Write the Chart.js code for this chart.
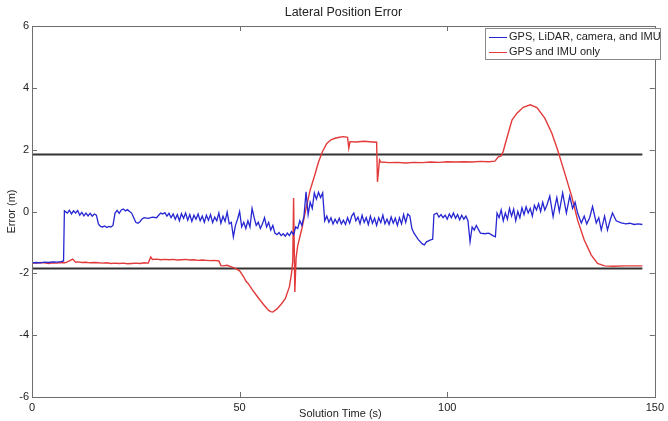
<!DOCTYPE html>
<html lang="en">
<head>
  <meta charset="UTF-8" />
  <title>Lateral Position Error</title>
  <script src="https://cdn.jsdelivr.net/npm/chart.js"></script>
  <style>
    body {
      margin: 0;
      padding: 0;
      background: #ffffff;
    }
    canvas {
      display: block;
    }
  </style>
</head>
<body>
  <canvas id="errChart" width="668" height="421"></canvas>

  <script>
    const chartTitle = 'Lateral Position Error';
    const xTitle = 'Solution Time (s)';
    const yTitle = 'Error (m)';
    const seriesNames = ['GPS, LiDAR, camera, and IMU', 'GPS and IMU only'];
    const xTicks = [0, 50, 100, 150];
    const yTicks = [-6, -4, -2, 0, 2, 4, 6];

    // fused solution (blue)
    const blueTime = [
      0, 1, 2, 3, 4, 5, 6, 7, 7.6, 7.8, 8.5, 9, 9.5, 10, 10.5, 11, 11.5, 12, 12.5, 13, 13.5, 14, 14.5, 15, 15.5,
      16, 16.5, 17, 17.5, 18, 18.5, 19, 19.5, 20, 20.5, 21, 21.5, 22, 22.5, 23, 23.5, 24, 24.5, 25, 25.5, 26, 26.5,
      27, 28, 29, 30, 30.5, 31, 31.5, 32, 32.5, 33, 33.5, 34, 34.5, 35, 35.5, 36, 36.5, 37, 37.5, 38, 38.5, 39, 39.5,
      40, 40.5, 41, 41.5, 42, 42.5, 43, 43.5, 44, 44.5, 45, 45.5, 46, 46.5, 47, 47.5, 48, 48.5, 49, 49.5, 50, 50.5,
      51, 51.5, 52, 52.5, 53, 53.5, 54, 54.5, 55, 55.5, 56, 56.5, 57, 57.5, 58, 58.5, 59, 59.5, 60, 60.5, 61, 61.5,
      62, 62.5, 63, 63.5, 64, 64.5, 65, 65.5, 66, 66.5, 67, 67.5, 68, 68.5, 69, 69.5, 70, 70.5, 71, 71.5, 72, 72.5,
      73, 73.5, 74, 74.5, 75, 75.5, 76, 76.5, 77, 77.5, 78, 78.5, 79, 79.5, 80, 80.5, 81, 81.5, 82, 82.5, 83, 83.5,
      84, 84.5, 85, 85.5, 86, 86.5, 87, 87.5, 88, 88.5, 89, 89.5, 90, 90.5, 91, 91.5, 92, 93, 94, 94.5, 95, 95.5,
      96, 96.5, 96.8, 97.5, 98, 98.5, 99, 99.5, 100, 100.5, 101, 101.5, 102, 102.5, 103, 103.5, 104, 104.5, 105,
      105.5, 106, 106.5, 107, 108, 109, 110, 111, 111.6, 112, 112.5, 113, 113.5, 114, 114.5, 115, 115.5, 116, 116.5,
      117, 117.5, 118, 118.5, 119, 119.5, 120, 120.5, 121, 121.5, 122, 122.5, 123, 123.5, 124, 124.7, 125.5, 126,
      126.4, 127, 127.8, 128.7, 129.5, 130.2, 130.8, 131.4, 132.3, 133, 133.6, 134.3, 135, 135.9, 136.5, 137.1,
      137.9, 138.6, 139.2, 139.8, 140.7, 141.9, 143, 144, 145, 146, 147
    ];
    const blueError = [
      -1.66, -1.65, -1.66, -1.64, -1.65, -1.63, -1.64, -1.62, -1.6, 0.02, -0.05, 0.04, -0.08, 0.02, -0.05, 0.03, -0.12, -0.03, -0.14, -0.05, -0.14, -0.06, -0.15, -0.08, -0.12,
      -0.4, -0.48, -0.5, -0.47, -0.52, -0.48, -0.5, -0.45, -0.05, 0.04, -0.06, 0.05, 0.08, 0.02, 0.06, 0.0, -0.05, -0.2, -0.35, -0.38, -0.33, -0.24,
      -0.2, -0.22, -0.18, -0.2, -0.12, -0.05, -0.08, -0.04, -0.15, -0.06, -0.2, -0.08, -0.25, -0.1, -0.3, -0.07, -0.22, -0.05, -0.28, -0.1, -0.32, -0.12, -0.25,
      -0.08, -0.3, -0.15, -0.35, -0.12, -0.28, -0.1, -0.36, -0.18, -0.3, -0.05, -0.38, -0.15, -0.32, -0.02, -0.4, -0.35, -0.82, -0.45, -0.25, 0.0, -0.5,
      -0.35, -0.55, -0.3, -0.5, 0.1, -0.2, -0.45, -0.35, -0.55, -0.4, -0.2, -0.5, -0.35, -0.6, -0.45, -0.7, -0.75, -0.68, -0.78, -0.72, -0.8, -0.7,
      -0.78, -0.65, -0.75, -0.5, -0.55, -0.3, -0.45, -0.15, 0.64, -0.1, 0.3, 0.1, 0.6, 0.4, 0.62, 0.45, 0.6, -0.3, -0.15, -0.35, -0.2, -0.4,
      -0.25, -0.38, -0.22, -0.4, -0.28, -0.42, -0.2, -0.38, -0.15, -0.05, -0.3, -0.18, -0.4, -0.12, -0.35, -0.2, -0.42, -0.15, -0.38, -0.22, -0.45, -0.2,
      -0.36, -0.12, -0.4, -0.25, -0.42, -0.18, -0.38, -0.22, -0.45, -0.2, -0.4, -0.1, -0.35, -0.08, -0.15, -0.55, -0.7, -0.9, -1.05, -1.08, -0.98, -0.95,
      -0.92, -0.9, -0.1, -0.05, -0.18, -0.1, -0.2, -0.12, -0.25, -0.08, -0.2, -0.05, -0.22, -0.1, -0.27, -0.12, -0.25, -0.15, -0.3,
      -0.98, -0.5, -0.6, -0.45, -0.7, -0.72, -0.7, -0.78, -0.82, -0.05, -0.2, 0.05, -0.3, -0.05, -0.25, 0.1, -0.15, 0.08, -0.3,
      0.0, -0.2, 0.12, -0.1, 0.15, -0.05, 0.1, -0.15, 0.2, 0.05, 0.25, 0.0, 0.3, 0.05, 0.2, 0.5, -0.17, 0.2,
      0.45, 0.0, 0.6, -0.05, 0.5, 0.1, 0.3, -0.05, -0.37, -0.15, -0.4, -0.2, 0.16, -0.37, -0.2, -0.6,
      -0.15, -0.6, -0.3, -0.05, -0.3, -0.37, -0.4, -0.38, -0.42, -0.4, -0.42
    ];

    // GPS + IMU only (red)
    const redTime = [
      0, 1, 2, 3, 4, 5, 6, 7, 8, 9, 9.8, 10.5, 11, 12, 13, 14, 15, 16, 17, 18, 19, 20, 21, 22, 23, 24, 25, 26, 27, 28,
      28.6, 29, 30, 31, 32, 33, 34, 35, 36, 37, 38, 39, 40, 41, 42, 43, 44, 45, 45.5, 46, 47, 48, 49, 50, 50.5, 51,
      51.5, 52, 53, 54, 55, 56, 57, 57.5, 58, 59, 60, 61, 62, 62.5, 62.8, 63, 63.3, 63.6, 64, 65, 66, 67, 68, 69, 70,
      71, 72, 73, 74, 75, 76, 76.3, 76.6, 78, 80, 82, 83, 83.2, 83.7, 84, 86, 88, 90, 92, 94, 96, 98, 100, 102, 104,
      106, 108, 110, 111.5, 112.3, 113, 113.5, 114, 114.7, 115.6, 116.8, 118.3, 120, 121.6, 123.5, 125.2, 126.6,
      128.3, 130, 131.4, 133, 134.7, 136.2, 137.9, 140, 143, 147
    ];
    const redError = [
      -1.66, -1.67, -1.65, -1.66, -1.68, -1.66, -1.67, -1.65, -1.66, -1.6, -1.54, -1.64, -1.63, -1.65, -1.64, -1.66, -1.65, -1.66, -1.67, -1.66, -1.68, -1.67, -1.68, -1.67, -1.69, -1.68, -1.67, -1.68, -1.66, -1.67,
      -1.47, -1.55, -1.54, -1.56, -1.55, -1.56, -1.55, -1.57, -1.56, -1.55, -1.57, -1.56, -1.58, -1.57, -1.58, -1.59, -1.58, -1.6, -1.75, -1.76, -1.74, -1.79, -1.84, -1.92, -2.02, -2.12,
      -2.25, -2.32, -2.52, -2.7, -2.88, -3.05, -3.2, -3.24, -3.25, -3.15, -3.0, -2.82, -2.43, -2.0, -1.6, 0.44, -2.6, -1.5, -1.1, -0.55, 0.1, 0.7, 1.13, 1.6, 1.95,
      2.2, 2.32, 2.37, 2.4, 2.42, 2.4, 2.05, 2.26, 2.25, 2.27, 2.25, 2.24, 0.96, 1.67, 1.6, 1.58, 1.59, 1.57, 1.59, 1.58, 1.6, 1.59, 1.61, 1.6, 1.61,
      1.6, 1.62, 1.61, 1.63, 1.77, 1.8, 1.95, 2.2, 2.53, 2.96, 3.18, 3.37, 3.45, 3.36, 3.02, 2.53, 1.99,
      1.24, 0.48, -0.28, -0.92, -1.41, -1.68, -1.76, -1.77, -1.76, -1.76
    ];

    // error bounds (black lines)
    const boundTime = [0, 147];
    const boundUpper = [1.84, 1.84];
    const boundLower = [-1.84, -1.84];

    const toPoints = (xs, ys) => xs.map((x, i) => ({ x: x, y: ys[i] }));
    const FONT = "'Liberation Sans', Arial, sans-serif";

    const frame = {
      id: 'frame',
      afterDraw(chart) {
        const ctx = chart.ctx;
        const a = chart.chartArea;
        const sx = chart.scales.x;
        const sy = chart.scales.y;
        ctx.save();
        ctx.strokeStyle = '#6e6e6e';
        ctx.lineWidth = 1;
        ctx.strokeRect(Math.round(a.left) + 0.5, Math.round(a.top) + 0.5,
          Math.round(a.right - a.left), Math.round(a.bottom - a.top));

        // inward ticks on all sides
        ctx.beginPath();
        xTicks.forEach(v => {
          const px = Math.round(sx.getPixelForValue(v)) + 0.5;
          ctx.moveTo(px, a.bottom); ctx.lineTo(px, a.bottom - 5);
          ctx.moveTo(px, a.top); ctx.lineTo(px, a.top + 5);
        });
        yTicks.forEach(v => {
          const py = Math.round(sy.getPixelForValue(v)) + 0.5;
          ctx.moveTo(a.left, py); ctx.lineTo(a.left + 5, py);
          ctx.moveTo(a.right, py); ctx.lineTo(a.right - 5, py);
        });
        ctx.stroke();

        // titles
        ctx.fillStyle = '#222';
        ctx.textAlign = 'center';
        ctx.textBaseline = 'middle';
        ctx.font = '12.5px ' + FONT;
        ctx.fillText(chartTitle, (a.left + a.right) / 2, 13);
        ctx.font = '11px ' + FONT;
        ctx.fillText(xTitle, (a.left + a.right) / 2 - 3, 414);
        ctx.save();
        ctx.translate(12, (a.top + a.bottom) / 2);
        ctx.rotate(-Math.PI / 2);
        ctx.fillText(yTitle, 0, 0);
        ctx.restore();

        // legend box
        const lx = 485, ly = 28, lw = 175, lh = 31;
        ctx.fillStyle = '#ffffff';
        ctx.fillRect(lx, ly, lw, lh);
        ctx.strokeStyle = '#8a8a8a';
        ctx.strokeRect(lx + 0.5, ly + 0.5, lw, lh);
        ctx.textAlign = 'left';
        ctx.font = '11px ' + FONT;
        [0, 1].forEach(i => {
          const ds = chart.data.datasets[i];
          const yy = ly + 9 + i * 15;
          ctx.strokeStyle = ds.borderColor;
          ctx.beginPath();
          ctx.moveTo(lx + 4, yy + 0.5);
          ctx.lineTo(lx + 22, yy + 0.5);
          ctx.stroke();
          ctx.fillStyle = '#222';
          ctx.fillText(ds.label, lx + 24, yy);
        });
        ctx.restore();
      }
    };

    new Chart(document.getElementById('errChart'), {
      type: 'line',
      data: {
        datasets: [
          {
            label: seriesNames[0],
            data: toPoints(blueTime, blueError),
            borderColor: '#2626d2',
            borderWidth: 1.3,
            pointRadius: 0,
            tension: 0
          },
          {
            label: seriesNames[1],
            data: toPoints(redTime, redError),
            borderColor: '#e23a3a',
            borderWidth: 1.4,
            pointRadius: 0,
            tension: 0
          },
          {
            label: 'upper',
            data: toPoints(boundTime, boundUpper),
            borderColor: '#333333',
            borderWidth: 2,
            pointRadius: 0
          },
          {
            label: 'lower',
            data: toPoints(boundTime, boundLower),
            borderColor: '#333333',
            borderWidth: 2,
            pointRadius: 0
          }
        ]
      },
      options: {
        responsive: false,
        animation: false,
        devicePixelRatio: 1,
        layout: { padding: { top: 26, right: 7, left: 0, bottom: 0 } },
        plugins: {
          legend: { display: false },
          title: { display: false },
          tooltip: { enabled: false }
        },
        scales: {
          x: {
            type: 'linear',
            min: 0,
            max: 150,
            afterBuildTicks: s => { s.ticks = xTicks.map(v => ({ value: v })); },
            afterFit: s => { s.height = 24; },
            grid: { display: false, drawTicks: false },
            border: { display: false },
            ticks: { color: '#222', padding: 4, maxRotation: 0, font: { size: 11, family: FONT } }
          },
          y: {
            min: -6,
            max: 6,
            afterBuildTicks: s => { s.ticks = yTicks.map(v => ({ value: v })); },
            afterFit: s => { s.width = 32; },
            grid: { display: false, drawTicks: false },
            border: { display: false },
            ticks: { color: '#222', padding: 3, font: { size: 11, family: FONT } }
          }
        }
      },
      plugins: [frame]
    });
  </script>
</body>
</html>
